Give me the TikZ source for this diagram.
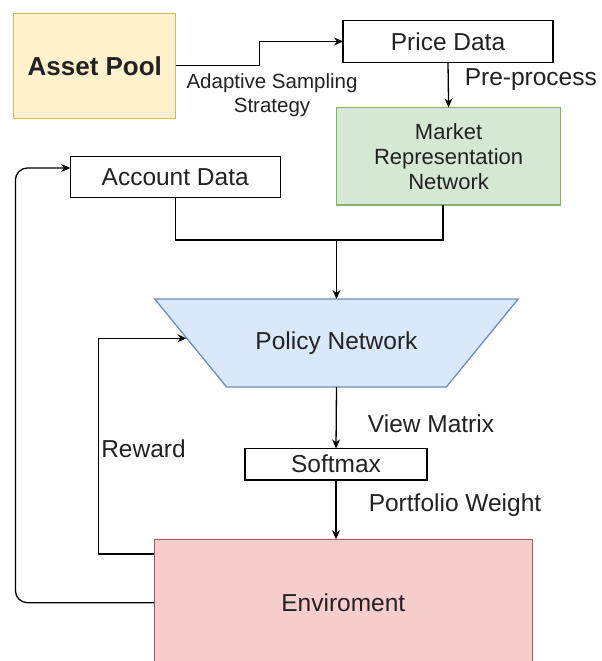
\documentclass[tikz,border=0pt]{standalone}
\usepackage{fontspec}
\setmainfont{Liberation Sans}
\usetikzlibrary{arrows.meta,calc}
\definecolor{apfill}{HTML}{FFF2CC}
\definecolor{apdraw}{HTML}{D6B656}
\definecolor{mkfill}{HTML}{D5E8D4}
\definecolor{mkdraw}{HTML}{82B366}
\definecolor{pnfill}{HTML}{DAE8FC}
\definecolor{pndraw}{HTML}{6C8EBF}
\definecolor{enfill}{HTML}{F8CECC}
\definecolor{endraw}{HTML}{B85450}
\definecolor{txt}{HTML}{222222}
\begin{document}
\begin{tikzpicture}[x=1pt,y=-1pt,
  box/.style={draw=black, line width=1.3pt, fill=white, inner sep=0pt, outer sep=0pt,
    font=\fontsize{24.5}{29}\selectfont, text=txt},
  link/.style={line width=1.3pt, draw=black},
  arr/.style={link, -{Stealth[length=9pt,width=8pt]}},
  lbl/.style={font=\fontsize{24.5}{29}\selectfont, inner sep=0pt, text=txt}]
\useasboundingbox (0,0) rectangle (602,661);

% trapezoid body of the policy network
\filldraw[fill=pnfill, draw=pndraw, line width=1.3pt, line join=miter]
  (154.7,299) -- (518.2,299) -- (446.3,387) -- (226.6,387) -- cycle;

% nodes
\node[box, fill=apfill, draw=apdraw, minimum width=162pt, minimum height=105pt,
  font=\fontsize{26}{30}\selectfont\bfseries] (asset) at (94.8,65.8) {Asset Pool};
\node[box, minimum width=210pt, minimum height=41.6pt] (price) at (448,41.5) {Price Data};
\node[box, fill=mkfill, draw=mkdraw, minimum width=223.8pt, minimum height=97.7pt,
  align=center, font=\fontsize{22}{25}\selectfont] (market) at (448.6,156.2)
  {Market\\Representation\\Network};
\node[box, minimum width=210pt, minimum height=41pt] (account) at (175.2,177.2) {Account Data};
\node[box, draw=none, fill=none, minimum width=219pt, minimum height=88pt] (policy)
  at (336.5,343) {Policy Network};
\node[box, minimum width=182pt, minimum height=31.7pt] (softmax) at (336,464.2) {Softmax};
\node[box, fill=enfill, draw=endraw, minimum width=378pt, minimum height=127pt] (env)
  at (343.3,602.7) {Enviroment};

% labels
\node[lbl, align=center, font=\fontsize{20.5}{24}\selectfont] (adapt) at (272,95)
  {Adaptive Sampling\\Strategy};
\node[lbl] (pre) at (530.8,80) {Pre-process};
\node[lbl] (view) at (431,423.3) {View Matrix};
\node[lbl] (pw) at (455,505) {Portfolio Weight};
\node[lbl] (reward) at (143.5,449) {Reward};

% connectors
\draw[arr] (asset.east) -- ++(83.7,0) |- (price.west);
\draw[arr] (price.south) -- (market.north);

\coordinate (joinY) at (0,240);
\coordinate (mk) at ($(market.south)+(-5.5,0)$);
\coordinate (join) at (policy.north |- joinY);
\draw[link] (account.south) |- (mk |- joinY) -- (mk);
\draw[arr] (join) -- (policy.north);

\draw[arr] (policy.south) -- (softmax.north);
\draw[arr] (softmax.south) -- (softmax.south |- env.north);

\coordinate (rwout) at ($(env.west)+(0,-48.7)$);
\coordinate (rwin) at (186.5,338.3);
\coordinate (rwcorner) at (98.7,0);
\draw[arr] (rwout) -| (rwcorner |- rwin) -- (rwin);

\coordinate (loopL) at (15.4,168);
\draw[arr, rounded corners=12pt] (env.west) -| (loopL) -- (account.west |- loopL);
\end{tikzpicture}
\end{document}
